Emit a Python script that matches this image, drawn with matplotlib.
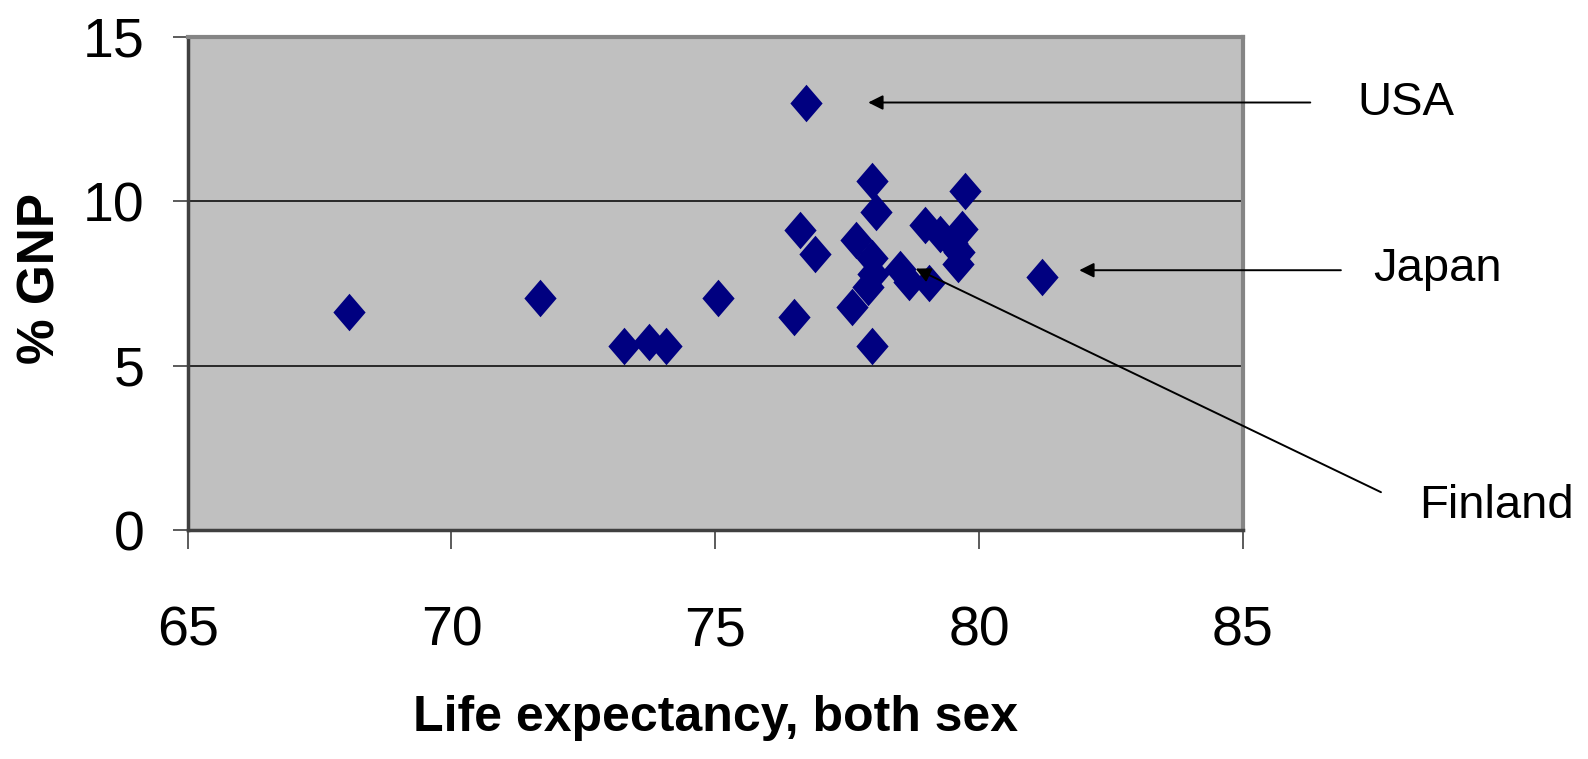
import matplotlib
matplotlib.use('Agg')
import matplotlib.pyplot as plt

# life expectancy (both sexes) vs health spending, % GNP
life_exp = [68.05, 71.67, 73.28, 73.74, 74.06, 75.05, 76.5, 76.6, 76.73, 76.9,
            77.6, 77.66, 77.9, 77.97, 77.97, 77.97, 78.0, 78.05, 78.5, 78.67,
            79.05, 78.98, 79.27, 79.49, 79.68, 79.62, 79.6, 79.74, 81.2]
gnp_pct = [6.62, 7.05, 5.6, 5.73, 5.6, 7.05, 6.48, 9.12, 13.0, 8.38,
           6.77, 8.83, 7.4, 8.27, 5.6, 10.6, 7.8, 9.68, 7.95, 7.55,
           7.5, 9.29, 8.99, 8.74, 9.14, 8.44, 8.1, 10.3, 7.7]

notes = ['USA', 'Japan', 'Finland']
note_xy = [(77.9, 13.0), (81.9, 7.9), (78.8, 7.95)]
note_tail = [(86.28, 13.0), (86.86, 7.9), (87.62, 1.15)]
note_text = [(88.1, 13.0), (88.7, 7.95), (89.8, 0.72)]

plt.rcParams['font.family'] = ['Liberation Sans', 'DejaVu Sans']

fig = plt.figure(figsize=(15.88, 7.59), dpi=100)
ax = fig.add_axes([0.1182, 0.3017, 0.6644, 0.6499])
ax.set_facecolor('#c0c0c0')

diamond = [(0, 1), (0.86, 0), (0, -1), (-0.86, 0), (0, 1)]
ax.plot(life_exp, gnp_pct, linestyle='none', marker=diamond, markersize=27,
        color='#000080', markeredgewidth=0, zorder=3)

ax.set_xlim(65, 85)
ax.set_ylim(0, 15)
ax.set_xticks([65, 70, 75, 80, 85])
ax.set_yticks([0, 5, 10, 15])
ax.grid(axis='y', color='black', linewidth=1.1, zorder=1)
ax.set_axisbelow(True)
ax.tick_params(axis='y', length=11, width=1.2, color='#404040', pad=20, labelsize=40)
ax.tick_params(axis='x', length=14, width=1.2, color='#404040', pad=40, labelsize=40)

for s in ['top', 'right']:
    ax.spines[s].set_color('#858585')
    ax.spines[s].set_linewidth(3)
for s in ['left', 'bottom']:
    ax.spines[s].set_color('#404040')
    ax.spines[s].set_linewidth(2.5)

ax.set_xlabel('Life expectancy, both sex', fontsize=36, fontweight='bold',
              labelpad=27)
fig.text(41 / 1588, 1 - 279 / 759, '% GNP', fontsize=37, fontweight='bold',
         rotation=90, ha='center', va='center')

for name, xy, tail, txt in zip(notes, note_xy, note_tail, note_text):
    ax.annotate('', xy=xy, xytext=tail, annotation_clip=False,
                arrowprops=dict(arrowstyle='-|>', color='black', lw=1.4,
                                mutation_scale=22, shrinkA=0, shrinkB=0))
    ax.text(txt[0], txt[1], name, fontsize=34, ha='center', va='center',
            clip_on=False)

fig.savefig('out.png', dpi=100)
